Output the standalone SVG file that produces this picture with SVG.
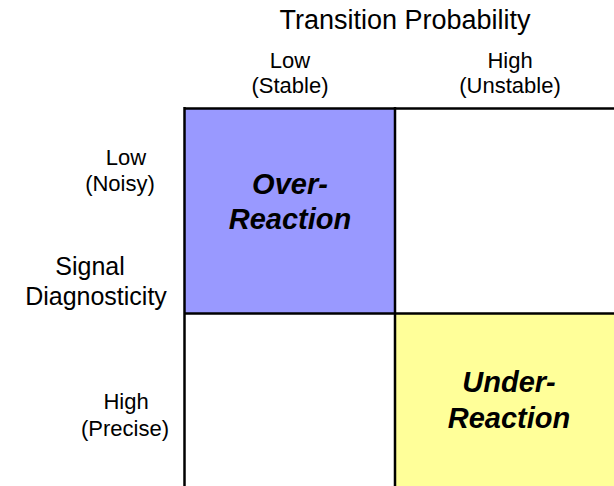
<svg xmlns="http://www.w3.org/2000/svg" width="614" height="486" viewBox="0 0 614 486">
<style>
text{font-family:"Liberation Sans",Arial,sans-serif;fill:#000;text-anchor:middle}
.ttl{font-size:27px}
.ax{font-size:25px}
.lb{font-size:22px}
.cell{font-size:29px;font-weight:bold;font-style:italic}
.ln{stroke:#000;stroke-width:2.5;fill:none}
</style>
<rect width="614" height="486" fill="#fff"/>
<g id="over-reaction">
<rect x="185" y="109" width="210" height="204" fill="#9999FF"/>
<text class="cell" x="290" y="194">Over-</text>
<text class="cell" x="290" y="229">Reaction</text>
</g>
<g id="under-reaction">
<rect x="395" y="314" width="219" height="172" fill="#FFFF99"/>
<text class="cell" x="509" y="392">Under-</text>
<text class="cell" x="509" y="428">Reaction</text>
</g>
<g id="grid">
<line class="ln" x1="184" y1="108.5" x2="614" y2="108.5"/>
<line class="ln" x1="184" y1="313.5" x2="614" y2="313.5"/>
<line class="ln" x1="184.5" y1="107" x2="184.5" y2="486"/>
<line class="ln" x1="395" y1="107" x2="395" y2="486"/>
</g>
<g id="x-axis">
<text class="ttl" x="405" y="29">Transition Probability</text>
<text class="lb" x="290" y="68">Low</text>
<text class="lb" x="290" y="93">(Stable)</text>
<text class="lb" x="510" y="68">High</text>
<text class="lb" x="510" y="93">(Unstable)</text>
</g>
<g id="y-axis">
<text class="ax" x="90" y="275">Signal</text>
<text class="ax" x="96" y="305">Diagnosticity</text>
<text class="lb" x="126" y="165">Low</text>
<text class="lb" x="120" y="191">(Noisy)</text>
<text class="lb" x="126" y="409">High</text>
<text class="lb" x="125" y="436">(Precise)</text>
</g>
</svg>
